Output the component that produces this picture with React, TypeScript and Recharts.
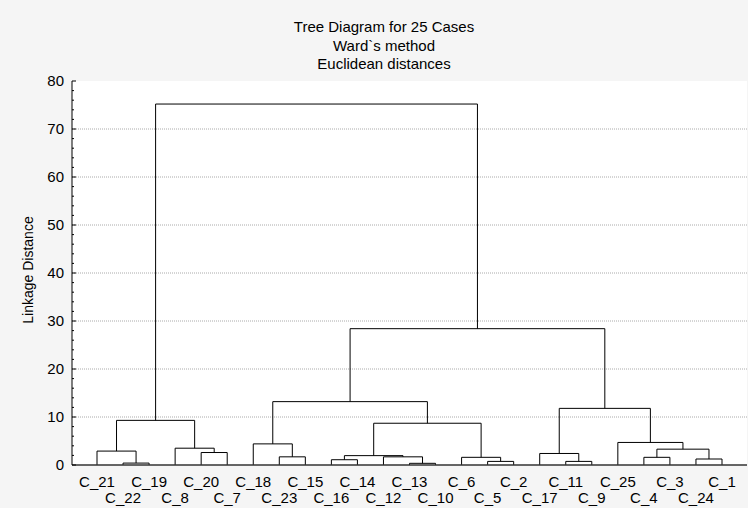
import React from "react";
import { LineChart, Line, XAxis, YAxis, ReferenceLine, ReferenceArea } from "recharts";

const FONT = "'Liberation Sans', Arial, sans-serif";

// leaf order along the x axis
const leaves = [
  "C_21", "C_22", "C_19", "C_8", "C_20", "C_7", "C_18", "C_23", "C_15", "C_16", "C_14", "C_12", "C_13",
  "C_10", "C_6", "C_5", "C_2", "C_17", "C_11", "C_9", "C_25", "C_4", "C_3", "C_24", "C_1",
];

// merge k joins mergeLeft[k] and mergeRight[k]; "#n" means the cluster made by merge n (1-based)
const mergeLeft = ["C_22", "C_21", "C_20", "C_8", "#2", "C_23", "C_18", "C_16", "C_13", "C_12", "#8", "C_5", "C_6", "#11", "#7", "C_11", "C_17", "C_4", "C_24", "#18", "C_25", "#17", "#15", "#5"];
const mergeRight = ["C_19", "#1", "C_7", "#3", "#4", "C_15", "#6", "C_14", "C_10", "#9", "#10", "C_2", "#12", "#13", "#14", "C_9", "#16", "C_3", "C_1", "#19", "#20", "#21", "#22", "#23"];
const mergeHeight = [0.4, 2.9, 2.6, 3.5, 9.3, 1.7, 4.4, 1.1, 0.35, 1.7, 1.95, 0.75, 1.6, 8.7, 13.2, 0.75, 2.4, 1.6, 1.25, 3.3, 4.7, 11.8, 28.4, 75.2];

const yTicks = [0, 2, 4, 6, 8, 10, 12, 14, 16, 18, 20, 22, 24, 26, 28, 30, 32, 34, 36, 38, 40, 42, 44, 46, 48, 50, 52, 54, 56, 58, 60, 62, 64, 66, 68, 70, 72, 74, 76, 78, 80];
const gridValues = [10, 20, 30, 40, 50, 60, 70];
const titleLines = ["Tree Diagram for 25 Cases", "Ward`s method", "Euclidean distances"];

const xDomain: [number, number] = [-0.96, 24.96];
const leafTicks = leaves.map((_, i) => i);

// build the U-shaped links of the tree
const pos: Record<string, { x: number; y: number }> = {};
leaves.forEach((l, i) => (pos[l] = { x: i, y: 0 }));
const links = mergeHeight.map((h, k) => {
  const a = pos[mergeLeft[k]];
  const b = pos[mergeRight[k]];
  pos["#" + (k + 1)] = { x: (a.x + b.x) / 2, y: h };
  return [
    { x: a.x, y: a.y },
    { x: a.x, y: h },
    { x: b.x, y: h },
    { x: b.x, y: b.y },
  ];
});

const LeafTick = (p: any) => {
  const i = p.payload.value;
  return (
    <text x={p.x} y={p.y + (i % 2 ? 38 : 22)} textAnchor="middle" fontSize={15} fontFamily={FONT} fill="#000">
      {leaves[i]}
    </text>
  );
};

const TopTick = (p: any) => <line x1={p.x} x2={p.x} y1={p.y} y2={p.y + 4} stroke="#000" />;

const LeftTick = (p: any) => {
  const v = p.payload.value;
  const major = v % 10 === 0;
  return (
    <g>
      <line x1={p.x + 8} x2={p.x + 8 + (major ? 4 : 2)} y1={p.y} y2={p.y} stroke="#000" />
      {major && (
        <text x={p.x} y={p.y + 5} textAnchor="end" fontSize={15} fontFamily={FONT} fill="#000">
          {v}
        </text>
      )}
    </g>
  );
};

const RightTick = (p: any) => {
  const major = p.payload.value % 10 === 0;
  return <line x1={p.x} x2={p.x - (major ? 4 : 2)} y1={p.y} y2={p.y} stroke="#000" />;
};

export default function App() {
  return (
    <div style={{ position: "absolute", left: 0, top: 0, width: 748, height: 508, background: "#f5f5f5", fontFamily: FONT }}>
      {titleLines.map((t, i) => (
        <div
          key={t}
          style={{ position: "absolute", left: 0, width: 768, top: 17 + i * 18.7, textAlign: "center", fontSize: 15, lineHeight: "19px", color: "#000" }}
        >
          {t}
        </div>
      ))}
      <div
        style={{
          position: "absolute",
          left: 28,
          top: 270,
          transform: "translate(-50%, -50%) rotate(-90deg)",
          whiteSpace: "nowrap",
          fontSize: 14,
          color: "#000",
        }}
      >
        Linkage Distance
      </div>
      <div style={{ position: "absolute", left: 0, top: 0 }}>
        <LineChart width={748} height={508} margin={{ top: 81, right: 1, bottom: 0, left: 12 }}>
          <XAxis
            xAxisId="b"
            type="number"
            dataKey="x"
            domain={xDomain}
            ticks={leafTicks}
            interval={0}
            height={43}
            tickSize={0}
            tickMargin={0}
            tick={<LeafTick />}
            axisLine={{ stroke: "#333", strokeWidth: 1.5 }}
          />
          <XAxis
            xAxisId="t"
            orientation="top"
            type="number"
            dataKey="x"
            domain={xDomain}
            ticks={leafTicks}
            interval={0}
            height={0}
            tickSize={0}
            tickMargin={0}
            tick={<TopTick />}
            axisLine={{ stroke: "#000" }}
          />
          <YAxis
            yAxisId="l"
            type="number"
            domain={[0, 80]}
            ticks={yTicks}
            interval={0}
            width={60}
            tickSize={0}
            tickMargin={8}
            tick={<LeftTick />}
            axisLine={{ stroke: "#000" }}
          />
          <YAxis
            yAxisId="r"
            orientation="right"
            type="number"
            domain={[0, 80]}
            ticks={yTicks}
            interval={0}
            width={0}
            tickSize={0}
            tickMargin={0}
            tick={<RightTick />}
            axisLine={{ stroke: "#000" }}
          />
          <ReferenceArea xAxisId="b" yAxisId="l" x1={xDomain[0]} x2={xDomain[1]} y1={0} y2={80} fill="#fff" fillOpacity={1} stroke="none" />
          {gridValues.map((v) => (
            <ReferenceLine key={v} xAxisId="b" yAxisId="l" y={v} stroke="#aaa" strokeDasharray="1 1" />
          ))}
          {links.map((d, i) => (
            <Line
              key={i}
              xAxisId="b"
              yAxisId="l"
              data={d}
              dataKey="y"
              type="linear"
              stroke="#000"
              strokeWidth={1}
              dot={false}
              activeDot={false}
              isAnimationActive={false}
            />
          ))}
        </LineChart>
      </div>
    </div>
  );
}
